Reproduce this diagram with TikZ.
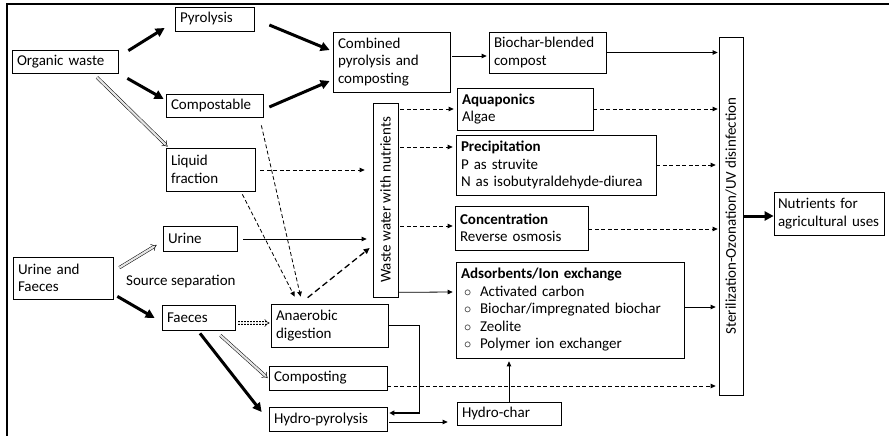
\documentclass[tikz,border=0pt]{standalone}
\usepackage{fontspec}
\setmainfont{Carlito}
\usepackage{graphicx}
\usetikzlibrary{arrows.meta,calc}
\newcommand\diagfont{\fontsize{15}{17.5}\selectfont}
\begin{document}
\begin{tikzpicture}[x=1pt,y=-1pt,
  box/.style={draw, line width=0.7pt, rectangle, inner xsep=5pt, inner ysep=0pt, align=left, font=\diagfont},
  vbox/.style={draw, line width=0.7pt, rectangle, inner sep=0pt, font=\diagfont},
  thickflow/.style={line width=3pt, -{Triangle[length=9pt,width=9pt]}},
  flow/.style={line width=0.8pt, -{Triangle[length=5pt,width=4.5pt]}},
  dashflow/.style={flow, dash pattern=on 4pt off 2.5pt},
  hollowflow/.style={line width=0.5pt, double=gray!20, double distance=2.2pt, -{Implies}},
]
\useasboundingbox (0,0) rectangle (889,436);
% frame
\draw[line width=2pt] (7,436) -- (7,4) -- (889,4);

% boxes
\node[box, text width=96pt,  minimum height=23pt] (ow)    at (65,61.5)    {\mbox{Organic waste}};
\node[box, text width=69pt,  minimum height=24pt] (pyr)   at (214.5,19)   {Pyrolysis};
\node[box, text width=87pt,  minimum height=23pt] (comp)  at (214.5,105.5){Compostable};
\node[box, text width=79pt,  minimum height=43pt] (liq)   at (210.5,169.5){Liquid\\fraction};
\node[box, text width=107pt, minimum height=60pt] (comb)  at (391.5,62)   {Combined\\\mbox{pyrolysis and}\\composting};
\node[box, text width=107pt, minimum height=41pt] (bio)   at (547.5,52.5) {\mbox{Biochar-blended}\\compost};
\node[box, text width=126pt, minimum height=42pt] (aqua)  at (525,109)    {\textbf{Aquaponics}\\Algae};
\node[box, text width=190pt, minimum height=60pt] (prec)  at (556,165)    {\textbf{Precipitation}\\\mbox{P as struvite}\\\mbox{N as isobutyraldehyde-diurea}};
\node[box, text width=123pt, minimum height=44pt] (conc)  at (521.5,228)  {\textbf{Concentration}\\\mbox{Reverse osmosis}};
\node[box, text width=218pt, minimum height=96pt] (ads)   at (570,310)    {\mbox{\textbf{Adsorbents/Ion exchange}}\\
  \hspace*{3pt}\makebox[16pt][l]{$\circ$}\mbox{Activated carbon}\\
  \hspace*{3pt}\makebox[16pt][l]{$\circ$}\mbox{Biochar/impregnated biochar}\\
  \hspace*{3pt}\makebox[16pt][l]{$\circ$}Zeolite\\
  \hspace*{3pt}\makebox[16pt][l]{$\circ$}\mbox{Polymer ion exchanger}};
\node[vbox, minimum width=25pt, minimum height=194pt] (ww) at (385.5,200)
  {\rotatebox{90}{Waste water with nutrients}};
\node[vbox, minimum width=24pt, minimum height=358pt] (ster) at (731,216)
  {\rotatebox{90}{Sterilization-Ozonation/UV disinfection}};
\node[box, inner xsep=4pt, text width=102pt, minimum height=43pt] (nut) at (829,213.5) {\mbox{Nutrients for}\\\mbox{agricultural uses}};
\node[box, text width=90pt,  minimum height=42pt] (uf)    at (63,278)     {\mbox{Urine and}\\Faeces};
\node[box, text width=64pt,  minimum height=25pt] (urine) at (200,238.5)  {Urine};
\node[box, text width=63pt,  minimum height=25pt] (fae)   at (198.5,317.5){Faeces};
\node[box, text width=107pt, minimum height=43pt] (ana)   at (329.5,325.5){Anaerobic\\digestion};
\node[box, text width=108pt, minimum height=24pt] (compo) at (328,378)    {Composting};
\node[box, text width=108pt, minimum height=24pt] (hp)    at (328,419)    {\mbox{Hydro-pyrolysis}};
\node[box, text width=94pt,  minimum height=23pt] (hc)    at (509,413.5)  {\mbox{Hydro-char}};
\node[font=\diagfont, anchor=west, inner sep=0pt] (sep) at (126,282) {Source separation};

% organic waste routes
\draw[thickflow]  ($(ow.north east)+(10,1)$) -- ($(pyr.west)+(-10,9)$);
\draw[thickflow]  ($(ow.south east)+(9,5)$) -- ($(comp.west)+(-2,-6.5)$);
\draw[hollowflow] ($(ow.south)+(32,4)$) -- ($(liq.north west)+(2,-1)$);
\draw[thickflow]  ($(pyr.east)+(15,6)$) -- ($(comb.west)+(-3,-12)$);
\draw[thickflow]  ($(comp.east)+(6,1.5)$) -- ($(comb.west)+(-3,19)$);
\draw[flow]       ($(comb.east)+(2,-6)$) -- ($(bio.west)+(-2,3.5)$);

% into the disinfection column
\draw[flow]     (bio.east) -- ($(bio.east -| ster.west)+(-1,0)$);
\draw[dashflow] (aqua.east) -- ($(aqua.east -| ster.west)+(-1,0)$);
\draw[dashflow] (prec.east) -- ($(prec.east -| ster.west)+(-3,0)$);
\draw[dashflow] ($(conc.east)+(0,1)$) -- ($(conc.east -| ster.west)+(-1,1)$);
\draw[flow]     ($(ads.east)+(0,-3)$) -- ($(ads.east -| ster.west)+(-3,-3)$);
\draw[dashflow] ($(compo.east)+(0,8)$) -- ($(compo.east -| ster.west)+(-3,8)$);
\draw[thickflow] (ster.east) -- ($(ster.east -| nut.west)+(0,0)$);

% waste water branches
\draw[dashflow] ($(ww.east |- aqua.west)+(2,0)$) -- ($(aqua.west)+(-3,0)$);
\draw[dashflow] ($(ww.east)+(2,-53)$) -- ($(prec.west)+(-3,-18)$);
\draw[dashflow] ($(ww.east)+(2,26)$) -- ($(conc.west)+(-2,-2)$);
\draw[flow]     ($(ww.south east)+(0,-5)$) -- ($(ads.west)+(-3,-18)$);

% streams into waste water
\draw[dashflow] ($(liq.east)+(5,0.5)$) -- ($(ww.west)+(-8,-30)$);
\draw[flow]     ($(urine.east)+(6,0.5)$) -- ($(ww.west)+(-6,39)$);
\draw[dashflow] ($(comp.south east)+(-2,8)$) -- ($(ana.north west)+(30,-7)$);
\draw[dashflow] ($(liq.south east)+(-13,3)$) -- ($(ana.north west)+(24,-7)$);
\draw[line width=1.3pt, dash pattern=on 6pt off 3.5pt, -{Triangle[length=6pt,width=5.5pt]}]
  ($(ana.north west)+(37,-6)$) -- ($(ww.west)+(-3,48)$);

% source separation
\draw[hollowflow] ($(uf.north east)+(6,11)$) -- ($(urine.west)+(-6,6.5)$);
\draw[thickflow]  ($(uf.south east)+(4,-3)$) -- ($(fae.west)+(-7,0.5)$);
\draw[hollowflow, dash pattern=on 2pt off 1pt] ($(fae.east)+(3,5.5)$) -- ($(ana.west)+(-1,-2.5)$);
\draw[hollowflow] ($(fae.south east)+(-15,5)$) -- ($(compo.west)+(-1,0)$);
\draw[thickflow]  ($(fae.south)+(1.5,3)$) -- ($(hp.west)+(-7,-7)$);

% char route
\draw[line width=1.5pt, -{Triangle[length=5pt,width=5pt]}] (ana.east) -- ++(31,0) |- ($(hp.east)+(2,-6)$);
\draw[flow] ($(hp.east)+(2,3)$) -- ($(hc.west)+(-9,8.5)$);
\draw[flow] (hc.north) -- ($(hc.north |- ads.south)+(0,3)$);
\end{tikzpicture}
\end{document}
